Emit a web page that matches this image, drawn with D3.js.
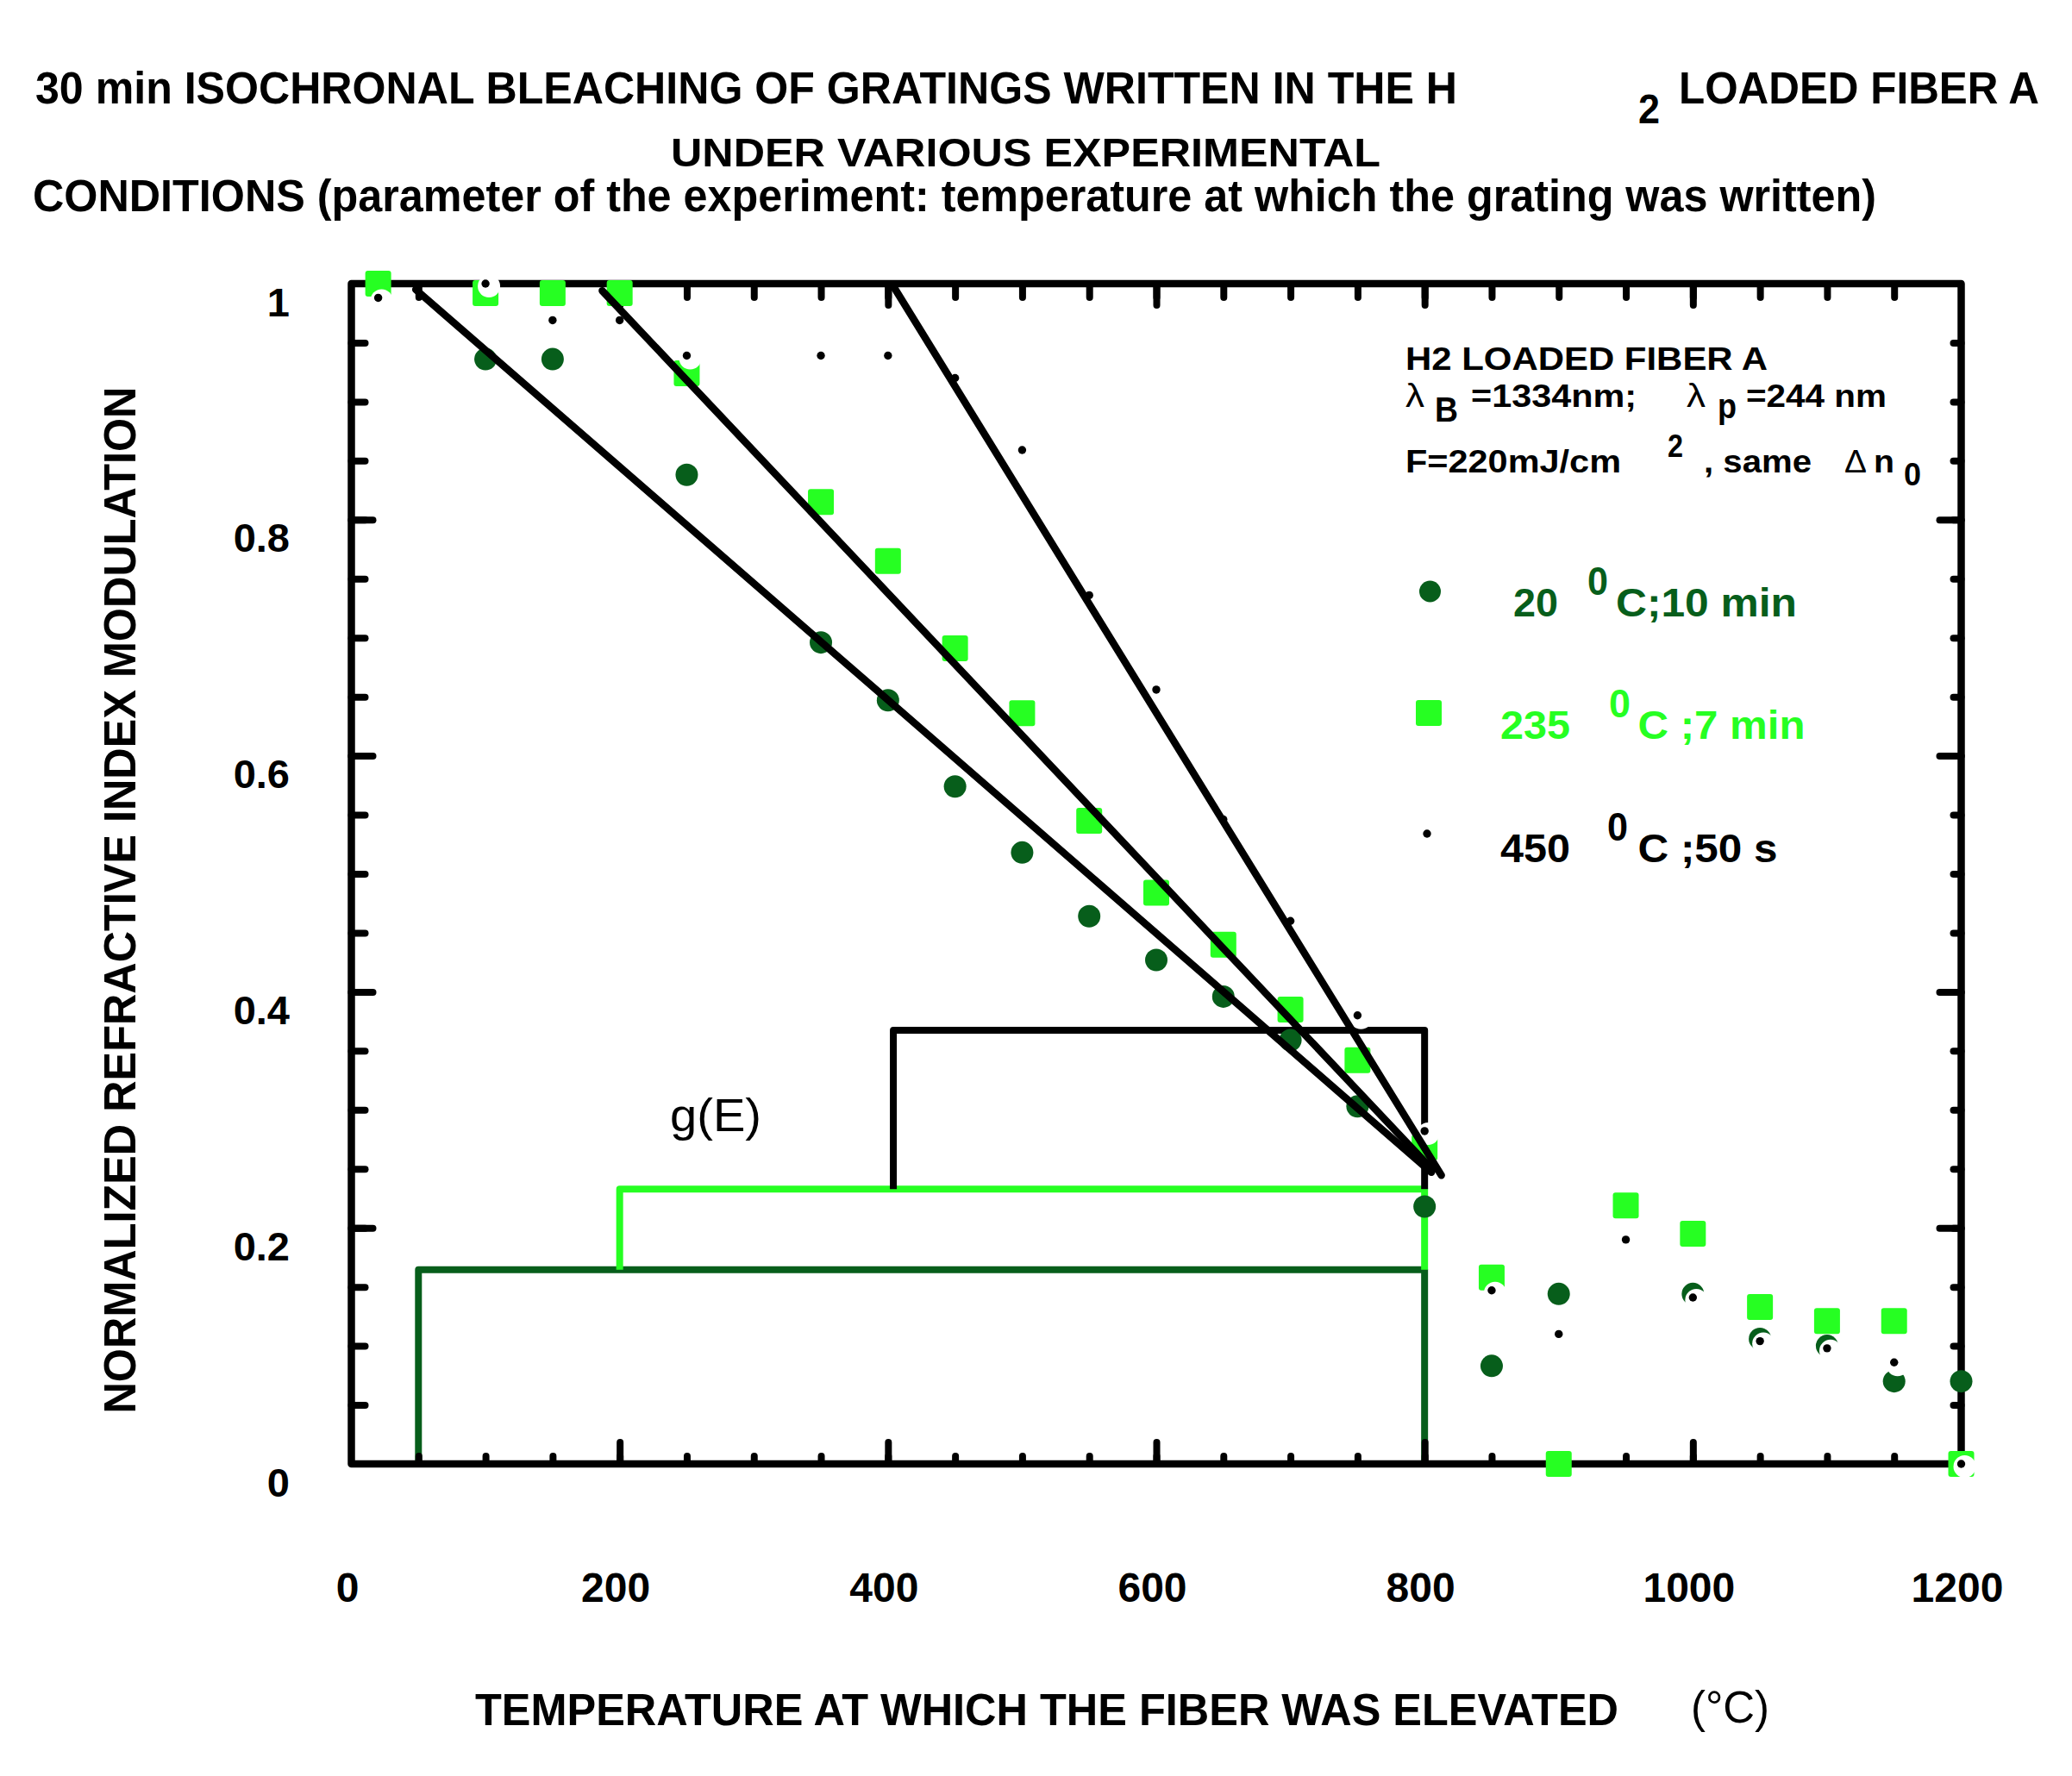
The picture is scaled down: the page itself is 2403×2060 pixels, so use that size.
<!DOCTYPE html>
<html><head><meta charset="utf-8">
<script src="https://cdn.jsdelivr.net/npm/d3@7"></script>
<style>body{margin:0;background:#fff}svg{display:block}</style>
</head><body>
<svg id="c" width="2403" height="2060"></svg>
<script>
// ---------- data ----------
const xTicks = [0, 200, 400, 600, 800, 1000, 1200];
const yTicks = [0, 0.2, 0.4, 0.6, 0.8, 1];
const yTickLabels = ["0", "0.2", "0.4", "0.6", "0.8", "1"];

// 20 °C ; 10 min  (dark green circles)
const x20 = [100,150,250,350,400,450,500,550,600,650,700,750,800,850,900,1000,1050,1100,1150,1200];
const y20 = [0.936,0.936,0.838,0.696,0.647,0.574,0.518,0.464,0.427,0.396,0.359,0.303,0.218,0.083,0.144,0.144,0.106,0.100,0.070,0.070];
// 235 °C ; 7 min  (light green squares)
const x235 = [20,100,150,200,250,350,400,450,500,550,600,650,700,750,800,850,900,950,1000,1050,1100,1150,1200];
const y235 = [1.0,0.992,0.992,0.992,0.924,0.815,0.765,0.691,0.636,0.545,0.484,0.440,0.385,0.342,0.268,0.158,0.0,0.219,0.195,0.133,0.121,0.121,0.0];
// 450 °C ; 50 s  (black dots)
const x450 = [20,100,150,200,250,350,400,450,500,550,600,650,700,750,800,850,900,950,1000,1050,1100,1150,1200];
const y450 = [0.988,1.0,0.969,0.969,0.939,0.939,0.939,0.920,0.859,0.736,0.656,0.546,0.460,0.380,0.282,0.147,0.110,0.190,0.141,0.104,0.098,0.086,0.0];

// straight fit lines (start / end)
const fitX0 = [48, 187, 405];
const fitY0 = [0.995, 0.994, 0.996];
const fitX1 = [805, 806, 812.5];
const fitY1 = [0.247, 0.249, 0.2445];

// g(E) steps
const gEleft  = [50, 200, 404];
const gEright = [800, 800, 800];
const gElow   = [0, 0.1646, 0.2328];
const gEhigh  = [0.1646, 0.2328, 0.3674];

// ---------- setup ----------
const W = 2403, H = 2060;
const DG = '#075E1B', LG = '#26FF22';
const FONT = '"Liberation Sans", Arial, Helvetica, sans-serif';
const svg = d3.select('#c');
svg.append('rect').attr('width', W).attr('height', H).attr('fill', '#fff');

const x = d3.scaleLinear().domain([0, 1200]).range([407.5, 2274.5]);
const y = d3.scaleLinear().domain([0, 1]).range([1698, 329]);
const [X0, X1] = x.range(), [Y0, Y1] = y.range();

function label(g, s, x0, yb, size, o = {}) {
  const t = g.append('text').attr('x', x0).attr('y', yb)
    .attr('font-family', FONT).attr('font-size', size)
    .attr('font-weight', o.w || 'bold').attr('fill', o.fill || '#000')
    .text(s);
  if (o.len) t.attr('textLength', o.len).attr('lengthAdjust', 'spacingAndGlyphs');
  if (o.anchor) t.attr('text-anchor', o.anchor);
  return t;
}

// ---------- g(E) steps ----------
const gE = svg.append('g').attr('fill', 'none').attr('stroke-width', 8).attr('stroke-linejoin', 'round');
const gEcol = [DG, LG, '#000'];
gEleft.forEach((l, i) => {
  gE.append('path').attr('stroke', gEcol[i])
    .attr('d', d3.line()([[x(l), y(gElow[i])], [x(l), y(gEhigh[i])], [x(gEright[i]), y(gEhigh[i])], [x(gEright[i]), y(gElow[i])]]));
});
label(svg, 'g(E)', 777, 1312, 53, { w: 'normal', len: 106 });

// ---------- frame and ticks ----------
const ax = svg.append('g');
function tickAxis(axisGen, tr, vals, size) {
  const g = ax.append('g').attr('transform', tr)
    .call(axisGen.tickValues(vals).tickSize(-size).tickFormat(''));
  g.select('.domain').remove();
  g.selectAll('line').attr('stroke', '#000').attr('stroke-width', 8).attr('stroke-linecap', 'round');
}
const minX = d3.range(50, 1200, 50), majX = [200, 400, 600, 800, 1000];
const minY = d3.range(1, 20).map(d => d / 20), majY = [0.2, 0.4, 0.6, 0.8];
tickAxis(d3.axisBottom(x), `translate(0,${Y0})`, minX, 9);
tickAxis(d3.axisBottom(x), `translate(0,${Y0})`, majX, 25);
tickAxis(d3.axisTop(x), `translate(0,${Y1})`, minX, 16);
tickAxis(d3.axisTop(x), `translate(0,${Y1})`, majX, 25);
tickAxis(d3.axisLeft(y), `translate(${X0},0)`, minY, 16);
tickAxis(d3.axisLeft(y), `translate(${X0},0)`, majY, 25);
tickAxis(d3.axisRight(y), `translate(${X1},0)`, minY, 9);
tickAxis(d3.axisRight(y), `translate(${X1},0)`, majY, 25);
ax.append('rect').attr('x', X0).attr('y', Y1).attr('width', X1 - X0).attr('height', Y0 - Y1)
  .attr('fill', 'none').attr('stroke', '#000').attr('stroke-width', 8.5).attr('stroke-linejoin', 'round');

// tick labels
const xl = svg.append('g').attr('transform', `translate(0,${Y0})`)
  .call(d3.axisBottom(x).tickValues(xTicks).tickSize(0).tickFormat(d3.format('d')));
xl.select('.domain').remove();
xl.selectAll('text').attr('y', 160).attr('dy', null).attr('dx', -5)
  .attr('font-family', FONT).attr('font-size', 48).attr('font-weight', 'bold').attr('fill', '#000');
const yl = svg.append('g').attr('transform', 'translate(336,0)')
  .call(d3.axisLeft(y).tickValues(yTicks).tickSize(0).tickFormat((d, i) => yTickLabels[i]));
yl.select('.domain').remove();
yl.selectAll('text').attr('x', 0).attr('y', 37).attr('dy', null).attr('text-anchor', 'end')
  .attr('font-family', FONT).attr('font-size', 47).attr('font-weight', 'bold').attr('fill', '#000');

// ---------- markers ----------
const mk = svg.append('g');
function circles(xs, ys, r, fill) {
  mk.append('g').selectAll('circle').data(xs.map((d, i) => [d, ys[i]])).join('circle')
    .attr('cx', d => x(d[0])).attr('cy', d => y(d[1])).attr('r', r).attr('fill', fill);
}
function squares(xs, ys, s, fill) {
  mk.append('g').selectAll('rect').data(xs.map((d, i) => [d, ys[i]])).join('rect')
    .attr('x', d => x(d[0]) - s / 2).attr('y', d => y(d[1]) - s / 2)
    .attr('width', s).attr('height', s).attr('rx', 3).attr('fill', fill);
}
function dots(xs, ys) {
  const g = mk.append('g');
  const data = xs.map((d, i) => [d, ys[i]]);
  g.selectAll('circle.h').data(data).join('circle').attr('class', 'h')
    .attr('cx', d => x(d[0]) + 4).attr('cy', d => y(d[1]) + 3).attr('r', 13).attr('fill', '#fff');
  g.selectAll('circle.d').data(data).join('circle').attr('class', 'd')
    .attr('cx', d => x(d[0])).attr('cy', d => y(d[1])).attr('r', 4.7).attr('fill', '#000');
}
circles(x20, y20, 13, DG);
squares(x235, y235, 30, LG);
dots(x450, y450);

// ---------- fit lines ----------
const fl = svg.append('g').attr('stroke', '#000').attr('stroke-width', 8.5).attr('stroke-linecap', 'round');
fitX0.forEach((d, i) => {
  fl.append('line').attr('x1', x(d)).attr('y1', y(fitY0[i])).attr('x2', x(fitX1[i])).attr('y2', y(fitY1[i]));
});

// ---------- titles ----------
const tt = svg.append('g');
label(tt, '30 min ISOCHRONAL BLEACHING OF GRATINGS WRITTEN IN THE H', 41, 120, 51, { len: 1649 });
label(tt, '2', 1900, 143, 49, { len: 25 });
label(tt, 'LOADED FIBER A', 1947, 120, 51, { len: 418 });
label(tt, 'UNDER VARIOUS EXPERIMENTAL', 778, 193, 46, { len: 823 });
label(tt, 'CONDITIONS (parameter of the experiment: temperature at which the grating was written)', 38, 245, 51, { len: 2138 });

// axis titles
label(svg, 'TEMPERATURE AT WHICH THE FIBER WAS ELEVATED', 551, 2001, 51, { len: 1326 });
label(svg, '(°C)', 1961, 1998, 51, { w: 'normal', len: 91 });
svg.append('text').attr('transform', 'translate(156.7,1044) rotate(-90)')
  .attr('text-anchor', 'middle').attr('font-family', FONT).attr('font-size', 51)
  .attr('font-weight', 'bold').attr('textLength', 1191).attr('lengthAdjust', 'spacingAndGlyphs')
  .text('NORMALIZED REFRACTIVE INDEX MODULATION');

// ---------- annotation block ----------
const an = svg.append('g');
label(an, 'H2 LOADED FIBER A', 1630, 429, 37.5, { len: 420 });
label(an, 'λ', 1630, 471.6, 38, { w: 'normal', len: 22 });
label(an, 'B', 1664, 488.6, 40, { len: 27 });
label(an, '=1334nm;', 1706, 471.6, 37.5, { len: 192 });
label(an, 'λ', 1956, 471.6, 38, { w: 'normal', len: 22 });
label(an, 'p', 1992, 485, 40, { len: 22 });
label(an, '=244 nm', 2025, 471.6, 37.5, { len: 163 });
label(an, 'F=220mJ/cm', 1630, 547.5, 37.5, { len: 250 });
label(an, '2', 1934, 529.6, 37.5, { len: 18 });
label(an, ', same', 1976, 547.5, 37.5, { len: 125 });
label(an, 'Δ', 2139, 547.5, 37.5, { w: 'normal', len: 26 });
label(an, 'n', 2173, 547.5, 37.5, { len: 24 });
label(an, '0', 2208, 563, 37.5, { len: 20 });

// legend
const lg = svg.append('g');
lg.append('circle').attr('cx', 1658.5).attr('cy', 686).attr('r', 12.5).attr('fill', DG);
label(lg, '20', 1755, 715, 46, { fill: DG, len: 52 });
label(lg, '0', 1841, 689.5, 46, { fill: DG, len: 24 });
label(lg, 'C;10 min', 1874, 715, 46, { fill: DG, len: 210 });
lg.append('rect').attr('x', 1642).attr('y', 812).attr('width', 30).attr('height', 30).attr('rx', 3).attr('fill', LG);
label(lg, '235', 1740, 857, 46, { fill: LG, len: 81 });
label(lg, '0', 1866, 832, 46, { fill: LG, len: 25 });
label(lg, 'C ;7 min', 1899.5, 857, 46, { fill: LG, len: 194 });
lg.append('circle').attr('cx', 1655).attr('cy', 967).attr('r', 4.7).attr('fill', '#000');
label(lg, '450', 1740, 1000, 46, { len: 81 });
label(lg, '0', 1864, 975, 46, { len: 24 });
label(lg, 'C ;50 s', 1899.5, 1000, 46, { len: 162 });
</script>
</body></html>
